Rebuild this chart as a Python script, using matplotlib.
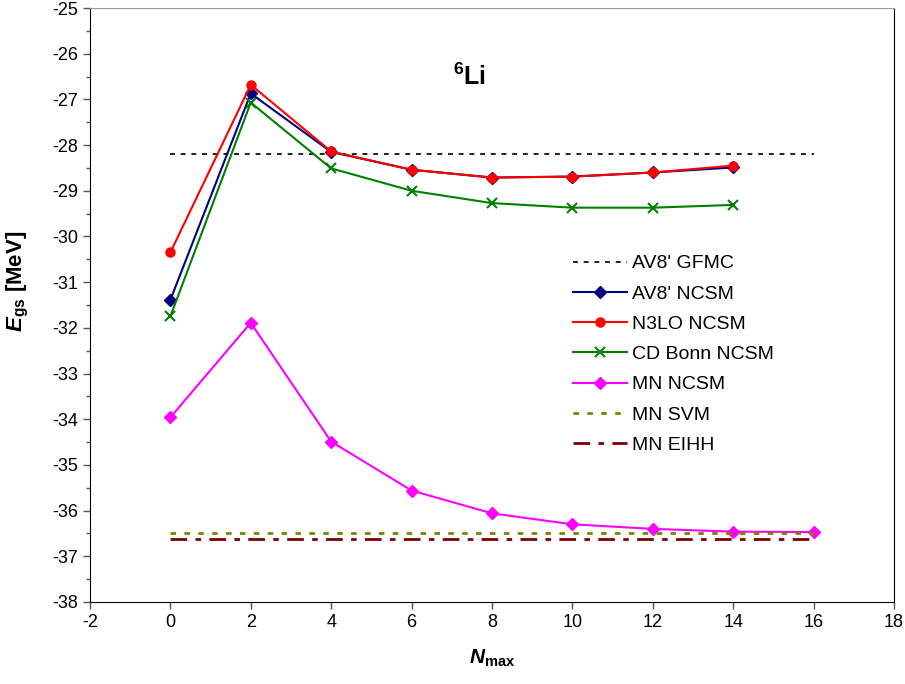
import matplotlib
matplotlib.use('Agg')
import matplotlib.pyplot as plt
from matplotlib.ticker import MultipleLocator

plt.rcParams['font.family'] = ['Liberation Sans', 'DejaVu Sans']
plt.rcParams['axes.unicode_minus'] = False
plt.rcParams['mathtext.fontset'] = 'custom'
plt.rcParams['mathtext.rm'] = 'Liberation Sans'
plt.rcParams['mathtext.bf'] = 'Liberation Sans:bold'
plt.rcParams['mathtext.it'] = 'Liberation Sans:italic'
plt.rcParams['mathtext.bfit'] = 'Liberation Sans:italic:bold'

# Nmax 取值
nmax = [0, 2, 4, 6, 8, 10, 12, 14]
nmax_mn = [0, 2, 4, 6, 8, 10, 12, 14, 16]

# 基态能量 (MeV)
av8_ncsm = [-31.39, -26.87, -28.15, -28.54, -28.71, -28.69, -28.60, -28.49]
n3lo_ncsm = [-30.35, -26.68, -28.14, -28.54, -28.71, -28.69, -28.60, -28.45]
cdbonn_ncsm = [-31.75, -27.07, -28.51, -29.00, -29.27, -29.37, -29.37, -29.31]
mn_ncsm = [-33.96, -31.89, -34.49, -35.56, -36.06, -36.30, -36.40, -36.46, -36.47]

# 参考值（水平线）
ref_x = [0, 16]
av8_gfmc = -28.19
mn_svm = -36.48
mn_eihh = -36.62

fig = plt.figure(figsize=(9.05, 6.84), dpi=100)
ax = fig.add_axes([0.0994, 0.1199, 0.8884, 0.8684])

ax.plot(ref_x, [av8_gfmc, av8_gfmc], color='#202020', lw=1.4,
        linestyle=(0, (2.5, 3)), label="AV8' GFMC")
ax.plot(nmax, av8_ncsm, color='#000080', lw=1.5, marker='D', ms=6,
        label="AV8' NCSM")
ax.plot(nmax, n3lo_ncsm, color='#ff0000', lw=1.5, marker='o', ms=6.5,
        label='N3LO NCSM')
ax.plot(nmax, cdbonn_ncsm, color='#008000', lw=1.5, marker='x', ms=7,
        mew=1.5, label='CD Bonn NCSM')
ax.plot(nmax_mn, mn_ncsm, color='#ff00ff', lw=1.5, marker='D', ms=6.5,
        label='MN NCSM')
ax.plot(ref_x, [mn_svm, mn_svm], color='#808000', lw=2,
        linestyle=(0, (2, 3)), label='MN SVM')
ax.plot(ref_x, [mn_eihh, mn_eihh], color='#800000', lw=2,
        linestyle=(0, (6, 3, 2, 3)), label='MN EIHH')

ax.set_xlim(-2, 18)
ax.set_ylim(-38, -25)
ax.xaxis.set_major_locator(MultipleLocator(2))
ax.yaxis.set_major_locator(MultipleLocator(1))
ax.yaxis.set_minor_locator(MultipleLocator(0.5))
ax.tick_params(axis='both', which='major', direction='out', length=5,
               width=1, labelsize=13, color='#555555')
ax.tick_params(axis='y', which='minor', direction='out', length=3, width=1,
               color='#555555')
for s in ['left', 'bottom', 'right']:
    ax.spines[s].set_color('black')
ax.spines['top'].set_color('#999999')

ax.set_xlabel(r'$\mathbfit{N}_{\mathbf{max}}$', fontsize=15, labelpad=12)
ax.set_ylabel(r'$\mathbfit{E}_{\mathbf{gs}}$ [MeV]', fontsize=16,
              fontweight='bold')
ax.yaxis.set_label_coords(-0.073, 0.54)

ax.text(7.45, -26.5, r'$^{\mathbf{6}}$Li', fontsize=18, fontweight='bold',
        ha='center', va='center')

ax.legend(loc='center left', bbox_to_anchor=(0.601, 0.417), frameon=False,
          fontsize=14, handlelength=2.75, handletextpad=0.3,
          labelspacing=0.65, borderpad=0, borderaxespad=0)

fig.savefig('out.png', dpi=100)
